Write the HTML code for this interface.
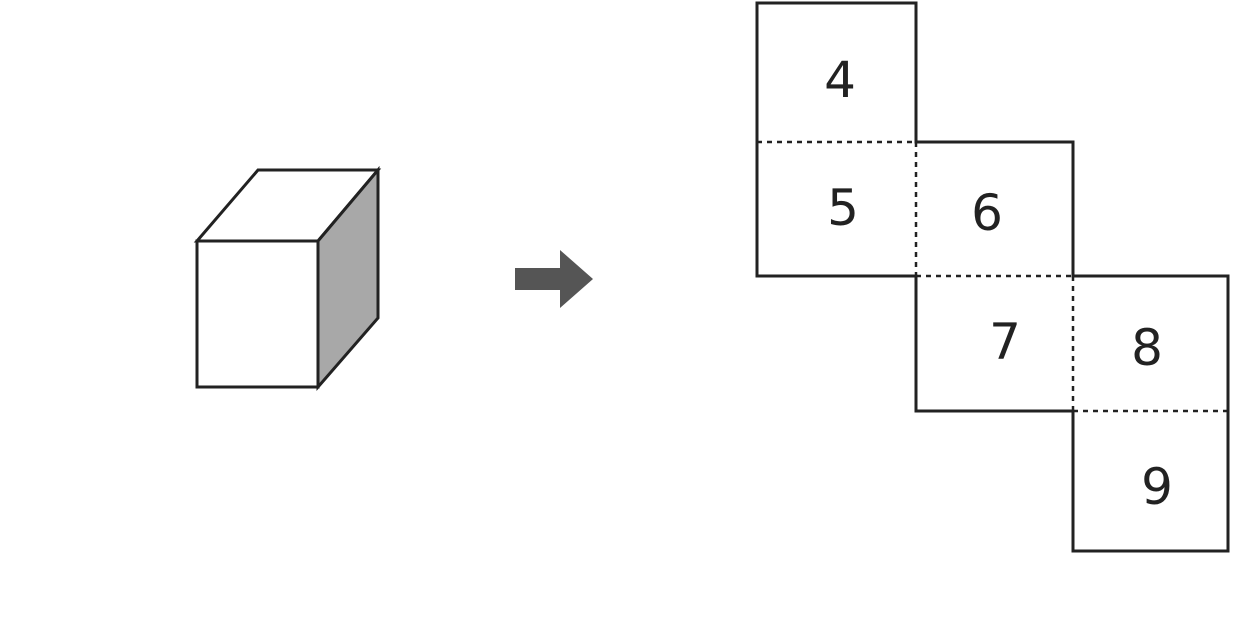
<!DOCTYPE html>
<html><head><meta charset="utf-8"><style>
html,body{margin:0;padding:0;background:#fff;}
svg{display:block;}
text{font-family:"DejaVu Sans","Liberation Sans",sans-serif;font-size:50px;fill:#222;text-anchor:middle;dominant-baseline:central;}
</style></head><body>
<svg width="1235" height="620" viewBox="0 0 1235 620" xmlns="http://www.w3.org/2000/svg">
<g stroke="#222" stroke-width="3" stroke-linejoin="miter">
<polygon points="197,241 258,170 378,170 318,241" fill="#fff"/>
<polygon points="318,241 378,170 378,318 318,387" fill="#a8a8a8"/>
<rect x="197" y="241" width="121" height="146" fill="#fff"/>
</g>
<polygon points="515,268 560,268 560,250 593,279 560,308 560,290 515,290" fill="#555"/>
<g fill="none" stroke="#222" stroke-width="3">
<path d="M757,3 H916 V142 H1073 V276 H1228 V551 H1073 V411 H916 V276 H757 Z"/>
</g>
<g fill="none" stroke="#222" stroke-width="2.5" stroke-dasharray="5,5">
<path d="M757,142 H916 M916,142 V276 M916,276 H1073 M1073,276 V411 M1073,411 H1228"/>
</g>
<text x="840" y="80">4</text>
<text x="843" y="208">5</text>
<text x="987" y="213">6</text>
<text x="1005" y="342">7</text>
<text x="1147" y="348">8</text>
<text x="1157" y="487">9</text>
</svg>
</body></html>
